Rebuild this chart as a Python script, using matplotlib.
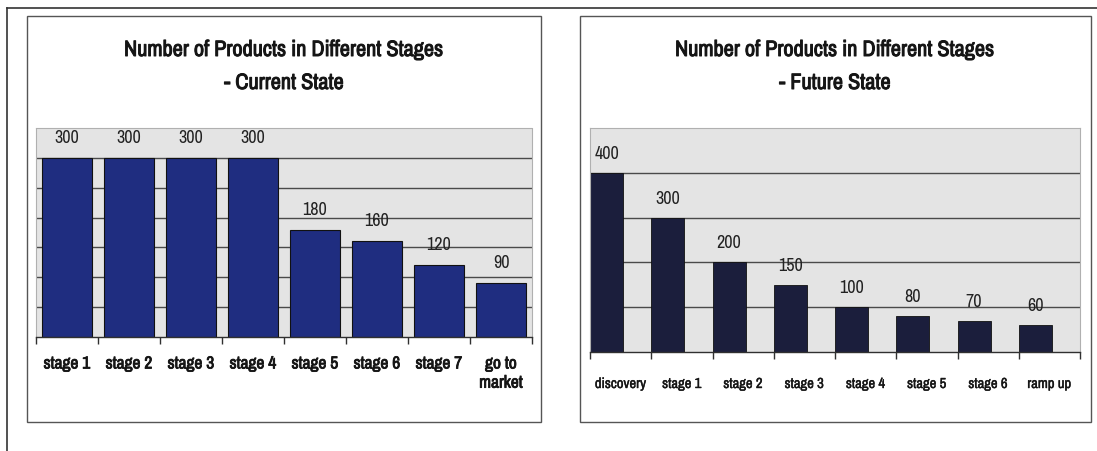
import matplotlib
matplotlib.use("Agg")
import matplotlib.pyplot as plt
import matplotlib.patheffects as pe
from matplotlib.patches import Rectangle
from matplotlib.lines import Line2D

# data
current_stages = ["stage 1", "stage 2", "stage 3", "stage 4", "stage 5", "stage 6", "stage 7", "go to\nmarket"]
current_counts = [300, 300, 300, 300, 180, 160, 120, 90]

future_stages = ["discovery", "stage 1", "stage 2", "stage 3", "stage 4", "stage 5", "stage 6", "ramp up"]
future_counts = [400, 300, 200, 150, 100, 80, 70, 60]

TITLE_1 = "Number of Products in Different Stages"
TITLE_CURRENT = "- Current State"
TITLE_FUTURE = "- Future State"

W, H = 1097, 452

# Archivo Narrow is a variable font, only the regular weight renders,
# so bold text gets a thin stroke of its own colour instead
plt.rcParams["font.family"] = ["Archivo Narrow", "DejaVu Sans"]

PLOT_BG = "#e4e4e4"
GRID_COLOR = "#4a4a4a"
CURRENT_COLOR = "#1f2d80"
FUTURE_COLOR = "#1b1e3c"
TEXT_COLOR = "#151515"


def bold(lw):
    return [pe.withStroke(linewidth=lw, foreground=TEXT_COLOR)]


def px_rect(x0, y0, x1, y1):
    # pixel box (top-left origin) -> figure fraction [l, b, w, h]
    return [x0 / W, 1 - y1 / H, (x1 - x0) / W, (y1 - y0) / H]


def style_axes(ax, ymax, step):
    ax.set_facecolor(PLOT_BG)
    ax.set_ylim(0, ymax)
    ax.set_yticks([])
    for y in range(step, ymax, step):
        ax.axhline(y, color=GRID_COLOR, lw=1.0, zorder=1)
    for s in ["top", "left", "right"]:
        ax.spines[s].set_color("#b0b0b0")
        ax.spines[s].set_linestyle((0, (2, 1)))
        ax.spines[s].set_linewidth(0.8)
    ax.spines["bottom"].set_color("#303030")
    ax.spines["bottom"].set_linewidth(1.0)
    ax.tick_params(axis="x", which="major", length=0)
    ax.tick_params(axis="x", which="minor", length=5, width=1, color="#303030")


fig = plt.figure(figsize=(W / 100, H / 100), dpi=100)

# outer frame and chart boxes
fig.add_artist(Line2D([7 / W, 1], [1 - 9 / H, 1 - 9 / H], color="#333333", lw=1.2))
fig.add_artist(Line2D([7 / W, 7 / W], [0, 1 - 9 / H], color="#333333", lw=1.2))
for box in [(27, 17, 541, 423), (580, 17, 1091, 423)]:
    l, b, w, h = px_rect(*box)
    fig.add_artist(Rectangle((l, b), w, h, transform=fig.transFigure,
                             fill=False, edgecolor="#555555", lw=1.0))

# current state chart
ax1 = fig.add_axes(px_rect(36, 129, 532, 338))
style_axes(ax1, 350, 50)
x1 = list(range(len(current_stages)))
ax1.bar(x1, current_counts, width=0.8, color=CURRENT_COLOR, edgecolor="#111111", lw=0.8, zorder=2)
ax1.set_xlim(-0.5, len(current_stages) - 0.5)
ax1.set_xticks(x1)
ax1.set_xticklabels(current_stages, fontsize=12.5, va="top", linespacing=1.35, color=TEXT_COLOR)
for lab in ax1.get_xticklabels():
    lab.set_path_effects(bold(0.6))
ax1.set_xticks([i - 0.5 for i in range(len(current_stages) + 1)], minor=True)
ax1.tick_params(axis="x", which="major", pad=14)
for xi, v in zip(x1, current_counts):
    ax1.annotate(str(v), (xi, v), xytext=(0, 21), textcoords="offset pixels",
                 ha="center", va="center", fontsize=13, color="#222222")

# future state chart
ax2 = fig.add_axes(px_rect(590, 129, 1080, 353))
style_axes(ax2, 500, 100)
x2 = list(range(len(future_stages)))
ax2.bar(x2, future_counts, width=0.54, align="edge", color=FUTURE_COLOR, edgecolor="#111111", lw=0.6, zorder=2)
ax2.set_xlim(0, len(future_stages))
ax2.set_xticks([i + 0.5 for i in x2])
ax2.set_xticklabels(future_stages, fontsize=10.5, color=TEXT_COLOR)
for lab in ax2.get_xticklabels():
    lab.set_path_effects(bold(0.3))
ax2.set_xticks(list(range(len(future_stages) + 1)), minor=True)
ax2.tick_params(axis="x", which="major", pad=18)
for xi, v in zip(x2, future_counts):
    ax2.annotate(str(v), (xi + 0.27, v), xytext=(0, 20), textcoords="offset pixels",
                 ha="center", va="center", fontsize=13, color="#222222")

# titles
for cx, sub in [(284, TITLE_CURRENT), (835, TITLE_FUTURE)]:
    for ty, txt in [(51, TITLE_1), (84, sub)]:
        fig.text(cx / W, 1 - ty / H, txt, ha="center", va="center",
                 fontsize=16, color=TEXT_COLOR, path_effects=bold(0.7))

fig.savefig("out.png", dpi=100)
